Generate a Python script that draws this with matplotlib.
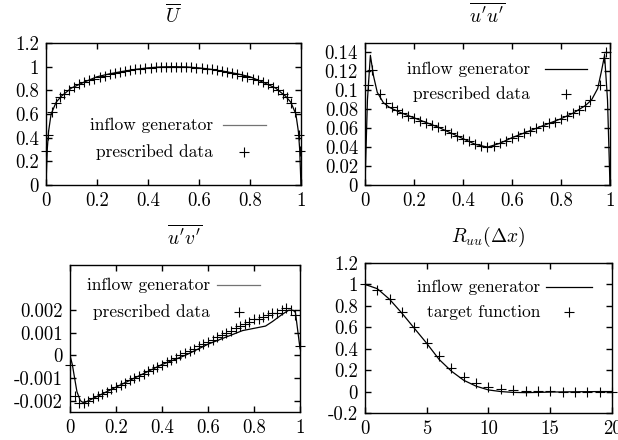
import matplotlib
matplotlib.use("Agg")
import matplotlib.pyplot as plt

plt.rcParams['font.family'] = ['cmr10', 'DejaVu Serif']
plt.rcParams['mathtext.fontset'] = 'cm'
plt.rcParams['axes.unicode_minus'] = False
plt.rcParams['axes.formatter.use_mathtext'] = True

# --- mean velocity U ---
u_line_x = [0, 0.005, 0.01, 0.02, 0.04, 0.06, 0.1, 0.15, 0.2, 0.25, 0.3, 0.35, 0.4, 0.45,
            0.5, 0.55, 0.6, 0.65, 0.7, 0.75, 0.8, 0.85, 0.9, 0.94, 0.96, 0.98, 0.99, 0.995, 1.0]
u_line_y = [0.0, 0.3, 0.45, 0.6, 0.70, 0.75, 0.82, 0.87, 0.915, 0.94, 0.96, 0.977, 0.99, 0.998,
            1.0, 0.998, 0.99, 0.977, 0.96, 0.94, 0.915, 0.87, 0.82, 0.75, 0.70, 0.6, 0.45, 0.3, 0.0]
u_data_x = [0.002, 0.008, 0.025, 0.04, 0.055,
            0.07, 0.09, 0.11, 0.13, 0.15, 0.17, 0.19, 0.21, 0.23, 0.25, 0.27, 0.29, 0.31, 0.33,
            0.35, 0.37, 0.39, 0.41, 0.43, 0.45, 0.47, 0.49, 0.51, 0.53, 0.55, 0.57, 0.59, 0.61,
            0.63, 0.65, 0.67, 0.69, 0.71, 0.73, 0.75, 0.77, 0.79, 0.81, 0.83, 0.85, 0.87, 0.89,
            0.91, 0.93, 0.945, 0.96, 0.975, 0.992, 0.998]
u_data_y = [0.29, 0.42, 0.62, 0.69, 0.74,
            0.77, 0.80, 0.83, 0.85, 0.87, 0.885, 0.90, 0.915, 0.925, 0.935, 0.945, 0.955, 0.962,
            0.97, 0.977, 0.983, 0.988, 0.992, 0.995, 0.998, 1.0, 1.0, 1.0, 1.0, 0.998, 0.995,
            0.992, 0.988, 0.983, 0.977, 0.97, 0.962, 0.955, 0.945, 0.935, 0.925, 0.915, 0.90,
            0.885, 0.87, 0.85, 0.83, 0.80, 0.77, 0.74, 0.69, 0.62, 0.42, 0.29]

# --- u'u' ---
uu_line_x = [0, 0.01, 0.022, 0.035, 0.05, 0.075, 0.1, 0.15, 0.2, 0.25, 0.3, 0.35, 0.4, 0.45,
             0.5, 0.55, 0.6, 0.65, 0.7, 0.75, 0.8, 0.85, 0.9, 0.925, 0.95, 0.965, 0.978, 0.99, 1.0]
uu_line_y = [0.0, 0.09, 0.137, 0.115, 0.098, 0.087, 0.082, 0.076, 0.071, 0.066, 0.061, 0.055,
             0.049, 0.043, 0.040, 0.044, 0.050, 0.055, 0.060, 0.065, 0.070, 0.076, 0.084, 0.090,
             0.102, 0.120, 0.137, 0.09, 0.0]
uu_data_x = [0.014, 0.027, 0.06, 0.085, 0.11, 0.13, 0.15, 0.175, 0.2, 0.225, 0.25, 0.275, 0.3,
             0.325, 0.35, 0.375, 0.4, 0.425, 0.45, 0.475, 0.5, 0.525, 0.55, 0.575, 0.6, 0.625,
             0.65, 0.675, 0.7, 0.725, 0.75, 0.775, 0.8, 0.825, 0.85, 0.875, 0.9, 0.92, 0.96,
             0.975, 0.985]
uu_data_y = [0.106, 0.121, 0.096, 0.087, 0.082, 0.079, 0.076, 0.073, 0.071, 0.068, 0.066, 0.063,
             0.061, 0.058, 0.055, 0.052, 0.049, 0.046, 0.043, 0.041, 0.040, 0.041, 0.044, 0.047,
             0.050, 0.052, 0.055, 0.057, 0.060, 0.062, 0.065, 0.067, 0.070, 0.073, 0.076, 0.079,
             0.084, 0.090, 0.106, 0.134, 0.140]

# --- u'v' ---
uv_line_x = [0, 0.01, 0.02, 0.03, 0.045, 0.06, 0.08, 0.1, 0.2, 0.3, 0.4, 0.5, 0.6, 0.65, 0.7,
             0.75, 0.8, 0.85, 0.88, 0.92, 0.95, 0.97, 0.98, 0.99, 1.0]
uv_line_y = [0.0, -0.0004, -0.0010, -0.0016, -0.0020, -0.0021, -0.0020, -0.0019, -0.0014,
             -0.0009, -0.0004, 0.0, 0.0005, 0.0007, 0.0009, 0.0011, 0.0012, 0.0013, 0.0015,
             0.0018, 0.0020, 0.0020, 0.0019, 0.0011, 0.0003]
uv_data_x = [0.0, 0.02, 0.04, 0.06, 0.08, 0.10, 0.12, 0.14, 0.16, 0.18, 0.20, 0.22, 0.24, 0.26,
             0.28, 0.30, 0.32, 0.34, 0.36, 0.38, 0.40, 0.42, 0.44, 0.46, 0.48, 0.50, 0.52, 0.54,
             0.56, 0.58, 0.60, 0.62, 0.64, 0.66, 0.68, 0.70, 0.72, 0.74, 0.76, 0.78, 0.80, 0.82,
             0.84, 0.86, 0.88, 0.90, 0.92, 0.94, 0.96, 0.98, 1.0]
uv_data_y = [-0.0004, -0.0018, -0.0021, -0.0021, -0.0020, -0.0019, -0.0018, -0.0017, -0.0016,
             -0.0015, -0.0014, -0.0013, -0.0012, -0.0011, -0.0010, -0.0009, -0.0008, -0.0007,
             -0.0006, -0.0005, -0.0004, -0.0003, -0.0002, -0.0001, 0.0, 0.0001, 0.0002, 0.0003,
             0.0004, 0.0005, 0.0006, 0.0007, 0.0008, 0.0009, 0.0010, 0.0011, 0.0012, 0.0013,
             0.0014, 0.0015, 0.0016, 0.0016, 0.0017, 0.0018, 0.0019, 0.0019, 0.0020, 0.0021,
             0.0020, 0.0018, 0.0004]

# --- R_uu ---
r_x = [0, 1, 2, 3, 4, 5, 6, 7, 8, 9, 10, 11, 12, 13, 14, 15, 16, 17, 18, 19, 20]
r_line = [1.0, 0.96, 0.86, 0.73, 0.59, 0.45, 0.30, 0.19, 0.105, 0.05, 0.015, 0.0, -0.008,
          -0.01, -0.008, -0.005, -0.003, -0.002, -0.001, 0.0, 0.0]
r_target = [1.0, 0.95, 0.865, 0.74, 0.60, 0.45, 0.33, 0.22, 0.14, 0.08, 0.045, 0.02, 0.01,
            0.004, 0.002, 0.001, 0.0, 0.0, 0.0, 0.0, 0.0]

x01_ticks = [0, 0.2, 0.4, 0.6, 0.8, 1]
x01_labels = ["0", "0.2", "0.4", "0.6", "0.8", "1"]
u_ticks = [0, 0.2, 0.4, 0.6, 0.8, 1, 1.2]
u_labels = ["0", "0.2", "0.4", "0.6", "0.8", "1", "1.2"]
uu_ticks = [0, 0.02, 0.04, 0.06, 0.08, 0.1, 0.12, 0.14]
uu_labels = ["0", "0.02", "0.04", "0.06", "0.08", "0.1", "0.12", "0.14"]
uv_ticks = [-0.002, -0.001, 0, 0.001, 0.002]
uv_labels = ["-0.002", "-0.001", "0", "0.001", "0.002"]
r_xticks = [0, 5, 10, 15, 20]
r_xlabels = ["0", "5", "10", "15", "20"]
r_yticks = [-0.2, 0, 0.2, 0.4, 0.6, 0.8, 1, 1.2]
r_ylabels = ["-0.2", "0", "0.2", "0.4", "0.6", "0.8", "1", "1.2"]

TICK_FS = 13.5
KEY_FS = 12.5
TITLE_FS = 14
fig = plt.figure(figsize=(6.18, 4.40), dpi=100)


def style(ax, xt, xl, yt, yl, title):
    ax.set_xticks(xt)
    ax.set_xticklabels(xl)
    ax.set_yticks(yt)
    ax.set_yticklabels(yl)
    ax.tick_params(direction='in', top=True, right=True, length=4, width=1,
                   labelsize=TICK_FS, pad=5)
    for s in ax.spines.values():
        s.set_linewidth(1.0)
    ax.set_title(title, fontsize=TITLE_FS, pad=15)


def key(ax, labels, xt, x0, x1, ys, line_color):
    ax.text(xt, ys[0], labels[0], transform=ax.transAxes, ha='right', va='center', fontsize=KEY_FS)
    ax.text(xt, ys[1], labels[1], transform=ax.transAxes, ha='right', va='center', fontsize=KEY_FS)
    ax.plot([x0, x1], [ys[0], ys[0]], transform=ax.transAxes, color=line_color, lw=0.9)
    ax.plot([(x0 + x1) / 2], [ys[1]], transform=ax.transAxes, color='k', marker='+',
            ms=7, mew=0.8, ls='none')


mk = dict(color='k', marker='+', ls='none', ms=7, mew=0.8, clip_on=False)

ax1 = fig.add_axes([0.0744, 0.5795, 0.4126, 0.3227])
ax1.plot(u_line_x, u_line_y, color='k', lw=0.9)
ax1.plot(u_data_x, u_data_y, **mk)
ax1.set_xlim(0, 1)
ax1.set_ylim(0, 1.2)
style(ax1, x01_ticks, x01_labels, u_ticks, u_labels, r'$\overline{U}$')
key(ax1, ["inflow generator", "prescribed data"], 0.655, 0.694, 0.863, [0.4225, 0.232], '0.45')

ax2 = fig.add_axes([0.5906, 0.5795, 0.3964, 0.3227])
ax2.plot(uu_line_x, uu_line_y, color='k', lw=0.9)
ax2.plot(uu_data_x, uu_data_y, **mk)
ax2.set_xlim(0, 1)
ax2.set_ylim(0, 0.15)
style(ax2, x01_ticks, x01_labels, uu_ticks, uu_labels, r"$\overline{u'u'}$")
key(ax2, ["inflow generator", "prescribed data"], 0.675, 0.735, 0.906, [0.817, 0.641], 'k')

ax3 = fig.add_axes([0.1133, 0.0636, 0.3722, 0.3341])
ax3.plot(uv_line_x, uv_line_y, color='k', lw=0.9)
ax3.plot(uv_data_x, uv_data_y, **mk)
ax3.set_xlim(0, 1)
ax3.set_ylim(-0.0025, 0.004)
style(ax3, x01_ticks, x01_labels, uv_ticks, uv_labels, r"$\overline{u'v'}$")
key(ax3, ["inflow generator", "prescribed data"], 0.609, 0.639, 0.826, [0.864, 0.68], '0.45')

ax4 = fig.add_axes([0.5906, 0.0614, 0.3997, 0.3409])
ax4.plot(r_x, r_line, color='k', lw=0.9)
ax4.plot(r_x, r_target, **mk)
ax4.set_xlim(0, 20)
ax4.set_ylim(-0.2, 1.2)
style(ax4, r_xticks, r_xlabels, r_yticks, r_ylabels, r'$R_{uu}(\Delta x)$')
key(ax4, ["inflow generator", "target function"], 0.709, 0.733, 0.919, [0.84, 0.673], 'k')

plt.savefig("out.png", dpi=100)
